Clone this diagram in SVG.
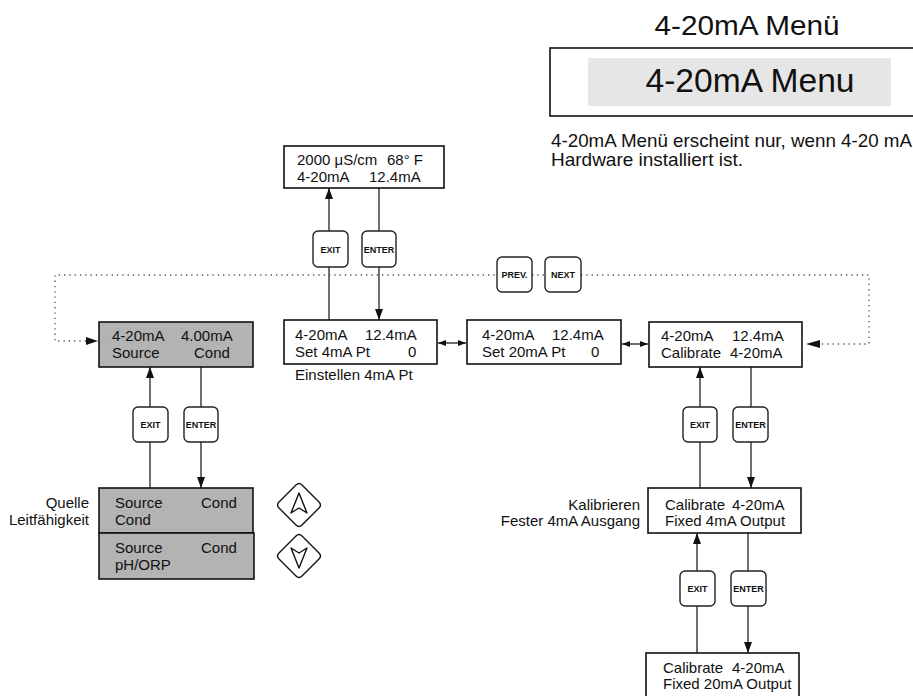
<svg xmlns="http://www.w3.org/2000/svg" width="913" height="696" viewBox="0 0 913 696">
<style>
text{font-family:"Liberation Sans",Arial,sans-serif;fill:#111}
.d{font-size:15px}
.box{fill:#fff;stroke:#111;stroke-width:1.6}
.gbox{fill:#b3b3b3;stroke:#111;stroke-width:1.6}
.btn{fill:#fff;stroke:#222;stroke-width:1.4}
.bl{font-size:9px;font-weight:bold;text-anchor:middle}
.ln{stroke:#222;stroke-width:1.3;fill:none}
.dot{stroke:#555;stroke-width:1.3;fill:none;stroke-dasharray:1.3 4}
.dia{fill:#fff;stroke:#111;stroke-width:1.4;stroke-linejoin:round}
</style>
<defs>
<marker id="ah" markerUnits="userSpaceOnUse" markerWidth="12" markerHeight="10" refX="11" refY="4" orient="auto">
<path d="M0,0 L11,4 L0,8 z" fill="#111"/>
</marker>
<marker id="as" markerUnits="userSpaceOnUse" markerWidth="9" markerHeight="6" refX="8" refY="3" orient="auto">
<path d="M0,0 L8,3 L0,6 z" fill="#111"/>
</marker>
<marker id="asr" markerUnits="userSpaceOnUse" markerWidth="9" markerHeight="6" refX="0" refY="3" orient="auto">
<path d="M8,0 L0,3 L8,6 z" fill="#111"/>
</marker>
</defs>

<g id="header">
<text x="747" y="35" font-size="27" text-anchor="middle" textLength="185" lengthAdjust="spacingAndGlyphs">4-20mA Menü</text>
<rect x="550" y="48" width="366" height="68" fill="#fff" stroke="#111" stroke-width="1.6"/>
<rect x="588" y="58" width="303" height="48" fill="#e6e6e6"/>
<text x="750" y="92" font-size="33" text-anchor="middle" textLength="209" lengthAdjust="spacingAndGlyphs">4-20mA Menu</text>
<text x="551" y="147" font-size="18.5" textLength="361" lengthAdjust="spacingAndGlyphs">4-20mA Menü erscheint nur, wenn 4-20 mA</text>
<text x="551" y="166" font-size="18.5" textLength="192" lengthAdjust="spacingAndGlyphs">Hardware installiert ist.</text>
</g>

<g id="connectors">
<line class="ln" x1="329" y1="320" x2="329" y2="188" marker-end="url(#ah)"/>
<line class="ln" x1="379" y1="188" x2="379" y2="320" marker-end="url(#ah)"/>
<line class="ln" x1="150" y1="488" x2="150" y2="367" marker-end="url(#ah)"/>
<line class="ln" x1="201" y1="367" x2="201" y2="488" marker-end="url(#ah)"/>
<line class="ln" x1="700" y1="488" x2="700" y2="367" marker-end="url(#ah)"/>
<line class="ln" x1="751" y1="367" x2="751" y2="488" marker-end="url(#ah)"/>
<line class="ln" x1="697" y1="653" x2="697" y2="533" marker-end="url(#ah)"/>
<line class="ln" x1="748" y1="533" x2="748" y2="653" marker-end="url(#ah)"/>
<line class="ln" x1="438" y1="343" x2="466" y2="343" marker-start="url(#asr)" marker-end="url(#as)"/>
<line class="ln" x1="622" y1="344" x2="648" y2="344" marker-start="url(#asr)" marker-end="url(#as)"/>
<path class="dot" d="M86,341 H55 V275 H497"/>
<path class="dot" d="M532,275 H545"/>
<path class="dot" d="M581,275 H869 V344 H818"/>
<path d="M86,337 L98,341 L86,345 z" fill="#111"/>
<path d="M820,340 L806,344 L820,348 z" fill="#111"/>
</g>

<g id="status">
<rect class="box" x="284" y="146" width="160" height="42"/>
<text class="d" x="297" y="165">2000 μS/cm</text>
<text class="d" x="387" y="165">68° F</text>
<text class="d" x="297" y="182">4-20mA</text>
<text class="d" x="369" y="182">12.4mA</text>
</g>

<g id="source-main">
<rect class="gbox" x="99" y="322" width="154" height="45"/>
<text class="d" x="112" y="341">4-20mA</text>
<text class="d" x="181" y="341">4.00mA</text>
<text class="d" x="112" y="358">Source</text>
<text class="d" x="194" y="358">Cond</text>
</g>

<g id="set4">
<rect class="box" x="284" y="320" width="153" height="44"/>
<text class="d" x="295" y="340">4-20mA</text>
<text class="d" x="365" y="340">12.4mA</text>
<text class="d" x="295" y="357">Set 4mA Pt</text>
<text class="d" x="408" y="357">0</text>
<text class="d" x="295" y="380">Einstellen 4mA Pt</text>
</g>

<g id="set20">
<rect class="box" x="467" y="320" width="154" height="44"/>
<text class="d" x="482" y="340">4-20mA</text>
<text class="d" x="552" y="340">12.4mA</text>
<text class="d" x="482" y="357">Set 20mA Pt</text>
<text class="d" x="591" y="357">0</text>
</g>

<g id="calibrate">
<rect class="box" x="649" y="322" width="153" height="45"/>
<text class="d" x="661" y="341">4-20mA</text>
<text class="d" x="732" y="341">12.4mA</text>
<text class="d" x="661" y="358">Calibrate</text>
<text class="d" x="730" y="358">4-20mA</text>
</g>

<g id="source-cond">
<rect class="gbox" x="99" y="488" width="154" height="45"/>
<text class="d" x="115" y="508">Source</text>
<text class="d" x="201" y="508">Cond</text>
<text class="d" x="115" y="525">Cond</text>
<text class="d" x="89" y="508" text-anchor="end">Quelle</text>
<text class="d" x="89" y="525" text-anchor="end">Leitfähigkeit</text>
</g>

<g id="source-ph">
<rect class="gbox" x="99" y="533" width="155" height="46"/>
<text class="d" x="115" y="553">Source</text>
<text class="d" x="201" y="553">Cond</text>
<text class="d" x="115" y="570">pH/ORP</text>
</g>

<g id="fixed4">
<rect class="box" x="648" y="488" width="153" height="45"/>
<text class="d" x="665" y="510">Calibrate</text>
<text class="d" x="732" y="510">4-20mA</text>
<text class="d" x="665" y="526">Fixed 4mA Output</text>
<text class="d" x="640" y="510" text-anchor="end">Kalibrieren</text>
<text class="d" x="640" y="526" text-anchor="end">Fester 4mA Ausgang</text>
</g>

<g id="fixed20">
<rect class="box" x="646" y="653" width="153" height="46"/>
<text class="d" x="663" y="673">Calibrate</text>
<text class="d" x="732" y="673">4-20mA</text>
<text class="d" x="663" y="689">Fixed 20mA Output</text>
</g>

<g id="buttons">
<rect class="btn" x="313" y="231" width="35" height="36" rx="5"/><text class="bl" x="330.5" y="252.5">EXIT</text>
<rect class="btn" x="362" y="231" width="34" height="36" rx="5"/><text class="bl" x="379" y="252.5">ENTER</text>
<rect class="btn" x="497" y="257" width="35" height="35" rx="5"/><text class="bl" x="514.5" y="278">PREV.</text>
<rect class="btn" x="545" y="257" width="36" height="35" rx="5"/><text class="bl" x="563" y="278">NEXT</text>
<rect class="btn" x="133" y="407" width="35" height="35" rx="5"/><text class="bl" x="150.5" y="428">EXIT</text>
<rect class="btn" x="184" y="407" width="34" height="35" rx="5"/><text class="bl" x="201" y="428">ENTER</text>
<rect class="btn" x="683" y="407" width="34" height="35" rx="5"/><text class="bl" x="700" y="428">EXIT</text>
<rect class="btn" x="733" y="407" width="35" height="35" rx="5"/><text class="bl" x="750.5" y="428">ENTER</text>
<rect class="btn" x="680" y="571" width="35" height="35" rx="5"/><text class="bl" x="697.5" y="592">EXIT</text>
<rect class="btn" x="731" y="571" width="35" height="35" rx="5"/><text class="bl" x="748.5" y="592">ENTER</text>
</g>

<g id="up-key">
<path class="dia" d="M296,485 Q299,482 302,485 L319,502 Q322,505 319,508 L302,525 Q299,528 296,525 L279,508 Q276,505 279,502 z"/>
<path class="dia" fill="none" d="M299,493 L291,513 L299,508 L307,513 z"/>
</g>
<g id="down-key">
<path class="dia" d="M296,536 Q299,533 302,536 L319,553 Q322,556 319,559 L302,576 Q299,579 296,576 L279,559 Q276,556 279,553 z"/>
<path class="dia" fill="none" d="M299,568 L291,548 L299,553 L307,548 z"/>
</g>
</svg>
